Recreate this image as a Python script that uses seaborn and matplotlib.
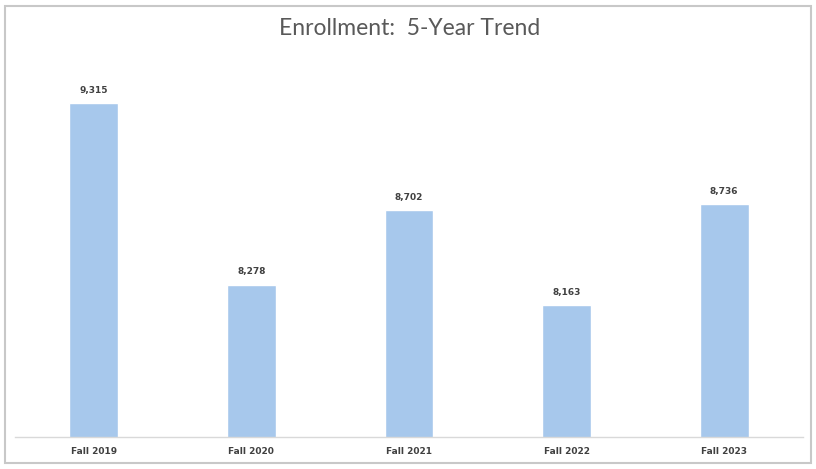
import pandas as pd
import matplotlib.pyplot as plt
import seaborn as sns
from matplotlib.patches import Rectangle

terms = ["Fall 2019", "Fall 2020", "Fall 2021", "Fall 2022", "Fall 2023"]
enrollment = [9315, 8278, 8702, 8163, 8736]

df = pd.DataFrame({"term": terms, "enrollment": enrollment})

sns.set_theme(style="white")
plt.rcParams['font.family'] = ['Lato', 'DejaVu Sans']

fig = plt.figure(figsize=(8.16, 4.69), dpi=100)
ax = fig.add_axes([0.0184, 0.0682, 0.9657, 0.819])

sns.barplot(data=df, x="term", y="enrollment", color="#a7c8ec",
            width=0.31, saturation=1, ax=ax)

ax.set_ylim(7410, 9600)
ax.set_xlim(-0.5, 4.5)

# value labels above bars
for i, v in enumerate(enrollment):
    ax.annotate(f"{v:,}", (i, v), xytext=(0, 6), textcoords="offset points",
                ha="center", va="bottom", fontsize=6.5, fontweight="bold",
                family="DejaVu Sans", color="#404040")

ax.set_xlabel("")
ax.set_ylabel("")
ax.set_yticks([])
ax.tick_params(axis="x", length=0, pad=7, labelsize=6.5, labelcolor="#404040")
for lbl in ax.get_xticklabels():
    lbl.set_fontweight("bold")
    lbl.set_family("DejaVu Sans")
for s in ["top", "right", "left"]:
    ax.spines[s].set_visible(False)
ax.spines["bottom"].set_color("#d9d9d9")
ax.spines["bottom"].set_linewidth(1)

fig.text(0.502, 0.94, "Enrollment:  5-Year Trend", ha="center", va="center",
         fontsize=16.5, color="#595959")

# chart border
fig.patches.append(Rectangle((0.006, 0.012), 0.988, 0.976, transform=fig.transFigure,
                             fill=False, edgecolor="#c8c8c8", linewidth=1.5))

fig.savefig("out.png", dpi=100)
